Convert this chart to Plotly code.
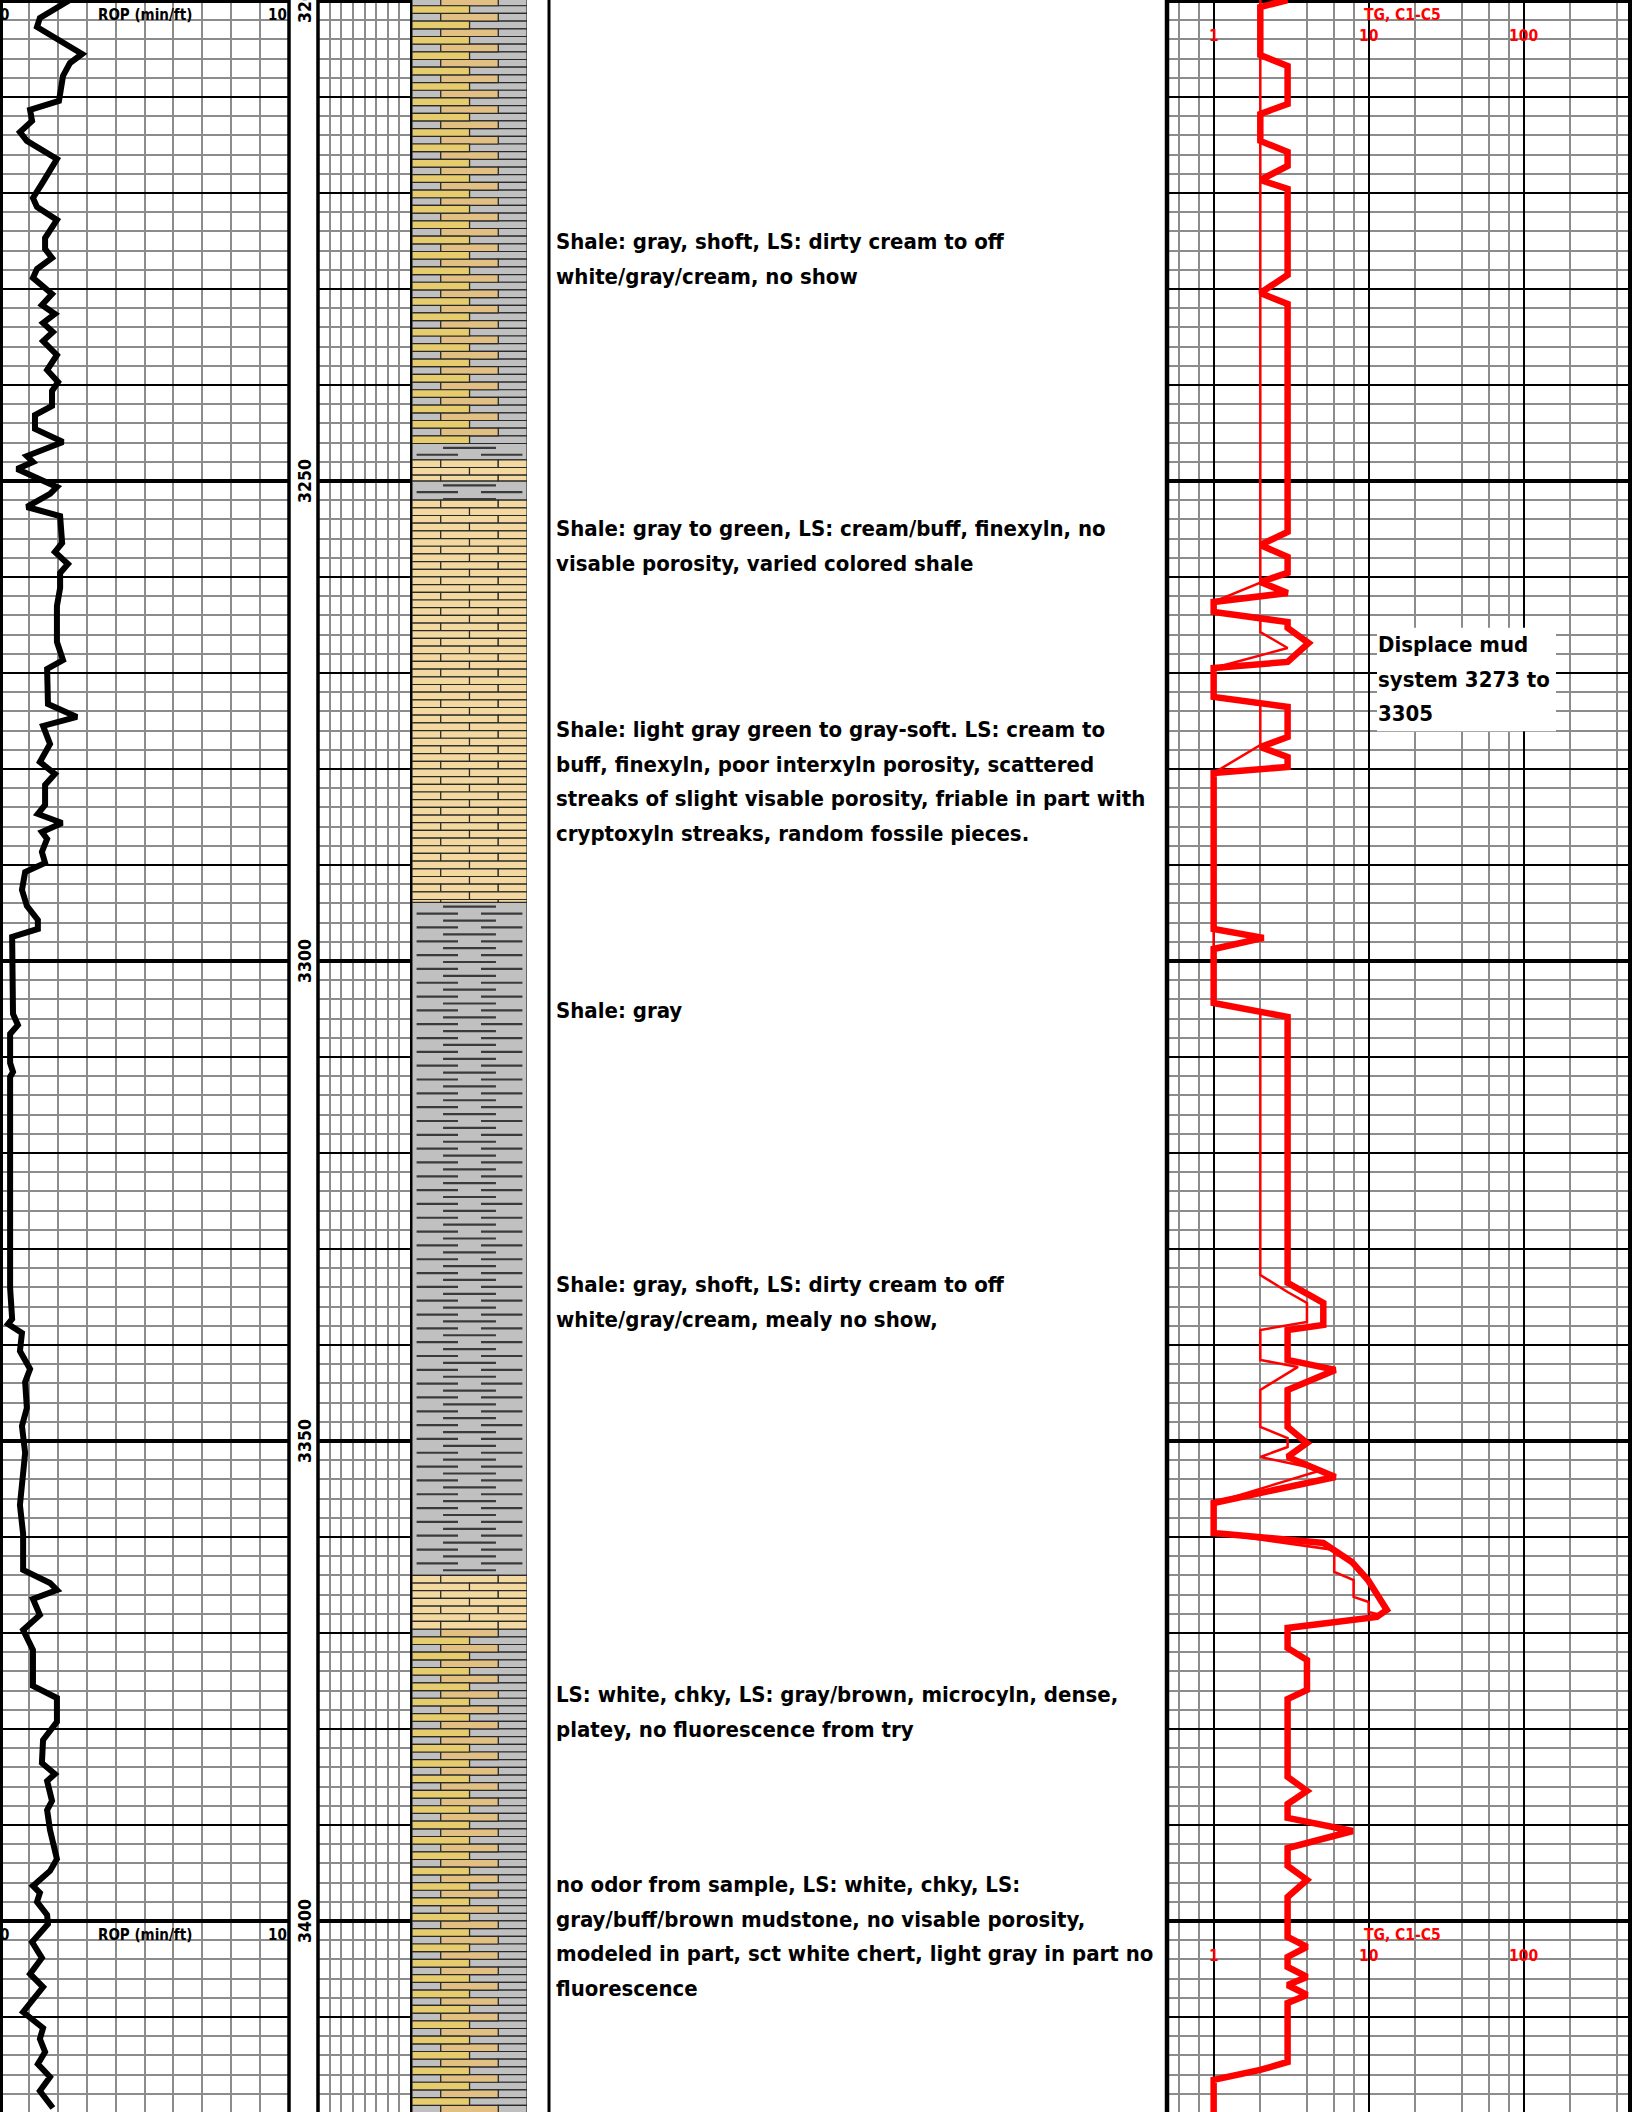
import math
import plotly.graph_objects as go

W, H = 1632, 2112
DEPTH_TOP, DEPTH_BOT = 3199.9, 3419.9

# ---------------- data ----------------
rop_depth = [3199.9, 3201.77, 3202.71, 3205.52, 3206.46, 3207.81, 3210.42, 3211.35, 3212.5, 3213.65,
             3214.58, 3216.46, 3218.85, 3220.52, 3221.46, 3222.81, 3224.69, 3225.83, 3226.77, 3227.92,
             3228.85, 3229.79, 3230.52, 3231.67, 3232.6, 3233.54, 3234.48, 3235.42, 3236.88, 3238.44,
             3239.69, 3240.63, 3242.19, 3243.13, 3244.58, 3245.94, 3247.4, 3248.02, 3248.75, 3250.63,
             3251.35, 3252.71, 3253.65, 3256.46, 3257.4, 3258.65, 3259.58, 3261.15, 3263.02, 3266.77,
             3268.65, 3269.58, 3273.23, 3274.58, 3275.52, 3277.4, 3279.27, 3280.52, 3281.67, 3283.75,
             3284.69, 3285.63, 3286.56, 3287.29, 3288.65, 3289.79, 3290.73, 3292.6, 3294.27, 3295.73,
             3296.67, 3297.5, 3301.25, 3305.52, 3306.67, 3307.6, 3310.63, 3311.56, 3312.08, 3334.06,
             3337.29, 3337.81, 3338.75, 3340.63, 3342.5, 3343.85, 3346.56, 3348.44, 3351.25, 3356.67,
             3359.69, 3363.44, 3364.79, 3365.52, 3366.46, 3368.13, 3369.69, 3371.77, 3375.52, 3376.77,
             3379.27, 3381.15, 3383.54, 3384.69, 3385.42, 3387.5, 3388.44, 3390.52, 3393.54, 3394.79,
             3396.35, 3397.08, 3398.02, 3399.38, 3400.31, 3402.19, 3403.85, 3405.52, 3406.88, 3409.48,
             3411.15, 3412.29, 3413.65, 3414.9, 3416.25, 3417.71, 3419.48]
rop_val = [2.42, 1.38, 1.28, 2.84, 2.42, 2.18, 2.04, 1.04, 1.11, 0.69,
           0.93, 1.97, 1.49, 1.14, 1.28, 1.97, 1.56, 1.56, 1.80, 1.28,
           1.14, 1.49, 1.80, 1.45, 1.90, 1.49, 1.83, 1.49, 1.97, 1.63,
           2.01, 1.80, 1.80, 1.21, 1.21, 2.18, 0.93, 1.14, 0.59, 1.97,
           1.73, 0.93, 2.08, 2.15, 1.90, 2.35, 2.08, 2.08, 1.97, 1.97,
           2.18, 1.63, 1.66, 2.66, 1.49, 1.73, 1.38, 1.90, 1.56, 1.56,
           1.31, 2.15, 1.45, 1.63, 1.45, 1.56, 0.87, 0.76, 0.93, 1.31,
           1.31, 0.42, 0.42, 0.45, 0.62, 0.35, 0.35, 0.45, 0.35, 0.35,
           0.42, 0.28, 0.76, 0.69, 1.04, 0.87, 0.93, 0.76, 0.87, 0.69,
           0.80, 0.80, 1.73, 1.97, 1.14, 1.38, 0.80, 1.14, 1.14, 1.97,
           1.97, 1.49, 1.45, 1.90, 1.63, 1.80, 1.63, 1.73, 1.97, 1.73,
           1.14, 1.38, 1.28, 1.63, 1.66, 1.11, 1.45, 1.04, 1.49, 0.80,
           1.49, 1.38, 1.56, 1.31, 1.73, 1.38, 1.83]

tg_depth = [3199.9, 3200.63, 3205.63, 3206.77, 3210.73, 3211.77, 3214.58, 3215.73, 3217.19, 3218.65,
            3219.58, 3228.54, 3230.42, 3231.56, 3255.31, 3256.67, 3257.92, 3259.58, 3260.52, 3261.67,
            3262.6, 3263.65, 3264.69, 3265.31, 3266.88, 3268.85, 3269.48, 3272.5, 3273.54, 3276.67,
            3277.71, 3278.75, 3279.79, 3280.42, 3296.67, 3297.6, 3298.75, 3304.38, 3305.83, 3333.54,
            3335.63, 3337.92, 3338.44, 3341.56, 3342.6, 3344.69, 3348.54, 3350.21, 3351.67, 3353.75,
            3356.46, 3359.58, 3360.63, 3362.6, 3364.48, 3367.6, 3368.33, 3369.48, 3371.56, 3372.81,
            3375.94, 3376.88, 3385.0, 3386.46, 3387.81, 3389.27, 3390.63, 3392.4, 3394.27, 3395.73,
            3397.5, 3401.67, 3402.71, 3403.75, 3404.79, 3405.83, 3406.67, 3407.71, 3408.54, 3414.69,
            3415.52, 3416.56, 3419.9]
tg_val = [3, 2, 2, 3, 3, 2, 2, 3, 3, 2,
          3, 3, 2, 3, 3, 2, 3, 3, 2, 3,
          1, 1, 3, 3, 4.1, 3, 1, 1, 3, 3,
          2, 3, 3, 1, 1, 2.1, 1, 1, 3, 3,
          5.1, 5.1, 3, 3, 6.1, 3, 3, 4, 3, 6.1,
          1, 1, 5.1, 7.8, 9.9, 13.1, 11.3, 3, 3, 4,
          4, 3, 3, 4, 3, 3, 7.9, 3, 3, 4,
          3, 3, 4, 3, 3, 4, 3, 4, 3, 3,
          2, 1, 1]

c1_depth = [3199.9, 3260.6, 3262.6, 3263.65, 3264.48, 3265.73, 3267.4, 3269.48, 3272.5, 3273.33,
            3277.5, 3280.42, 3304.38, 3305.31, 3332.71, 3334.48, 3335.63, 3337.6, 3338.44, 3341.56,
            3342.29, 3344.69, 3348.54, 3349.69, 3350.63, 3351.67, 3353.02, 3356.46, 3359.58, 3361.35,
            3363.65, 3364.48, 3366.25, 3366.77, 3367.81, 3368.13, 3369.48]
c1_val = [2, 2, 1, 1, 2, 2, 3, 1, 1, 2,
          2, 1, 1, 2, 2, 3, 4, 4, 2, 2,
          3.5, 2, 2, 3, 3, 2, 5, 1, 1, 6,
          6, 8, 8, 10, 10, 12, 3]

lith_top = [3199.7, 3246.1, 3247.8, 3250.0, 3252.0, 3293.9, 3364.0, 3369.6]
lith_bot = [3246.1, 3247.8, 3250.0, 3252.0, 3293.9, 3364.0, 3369.6, 3420.0]
lith_kind = ["mixed", "shale", "limestone", "shale", "limestone", "shale", "limestone", "mixed"]

depth_labels = [3200, 3250, 3300, 3350, 3400]
header_depths = [3201.45, 3401.45]
gas_scale_depths = [3203.65, 3403.65]
gas_scale_vals = [1, 10, 100]

desc_first_depth = [3225.1, 3255.0, 3275.94, 3305.21, 3333.75, 3376.46, 3396.25]
desc_text = [
    "Shale: gray, shoft, LS: dirty cream to off<br>white/gray/cream, no show",
    "Shale: gray to green, LS: cream/buff, finexyln, no<br>visable porosity, varied colored shale",
    "Shale: light gray green to gray-soft. LS: cream to<br>buff, finexyln, poor interxyln porosity, scattered<br>"
    "streaks of slight visable porosity, friable in part with<br>cryptoxyln streaks, random fossile pieces.",
    "Shale: gray",
    "Shale: gray, shoft, LS: dirty cream to off<br>white/gray/cream, mealy no show,",
    "LS: white, chky, LS: gray/brown, microcyln, dense,<br>platey, no fluorescence from try",
    "no odor from sample, LS: white, chky, LS:<br>gray/buff/brown mudstone, no visable porosity,<br>"
    "modeled in part, sct white chert, light gray in part no<br>fluorescence",
]
note_first_depth = 3267.08
note_text = "Displace mud<br>system 3273 to<br>3305"
LINE_STEP = 3.594  # ft between text lines

# ---------------- styling ----------------
FONT = "DejaVu Sans Condensed, DejaVu Sans, sans-serif"
GRID_GRAY = "#8c8c8c"
RED = "#ff0000"
C_YEL = "#e6cc6c"
C_TAN = "#e2c083"
C_GRAY = "#c0c0c0"
C_CREAM = "#f3d9a0"


def px(v):
    return v / W


fig = go.Figure()

# heavy 50-ft grid lines (drawn first, beneath curves)
for xa, ya, xr in (("x", "y", [0, 10]), ("x3", "y3", [0, 8]), ("x6", "y6", [0.5, 500])):
    gx, gy = [], []
    for d in depth_labels:
        gx += [xr[0], xr[1], None]
        gy += [d, d, None]
    fig.add_trace(go.Scatter(x=gx, y=gy, mode="lines", xaxis=xa, yaxis=ya,
                             line=dict(color="black", width=4), showlegend=False, hoverinfo="skip"))

# ROP curve
fig.add_trace(go.Scatter(x=rop_val, y=rop_depth, mode="lines", xaxis="x", yaxis="y",
                         line=dict(color="black", width=6), showlegend=False, hoverinfo="skip"))

# Lithology: brick rows
ROW = 0.8
segs = {}


def add_seg(color, y0, y1, a, b):
    s = segs.setdefault(color, ([], [], [], []))
    s[0].append((y0 + y1) / 2)
    s[1].append(y1 - y0)
    s[2].append(a)
    s[3].append(b - a)


dash_x, dash_y = [], []
for top, bot, kind in zip(lith_top, lith_bot, lith_kind):
    if kind == "shale":
        add_seg(C_GRAY, top, bot, 0, 1)
        d = top + 0.45
        k = 0
        while d < bot - 0.1:
            if k % 2 == 0:
                dash_x += [0.27, 0.73, None]
                dash_y += [d, d, None]
            else:
                dash_x += [0.04, 0.40, None, 0.60, 0.96, None]
                dash_y += [d, d, None, d, d, None]
            d += 0.72
            k += 1
        continue
    d = top
    k = 0
    while d < bot - 1e-6:
        y1 = min(d + ROW, bot)
        if kind == "mixed":
            if k % 2 == 1:
                add_seg(C_YEL, d, y1, 0, 0.5)
                add_seg(C_GRAY, d, y1, 0.5, 1)
            else:
                add_seg(C_GRAY, d, y1, 0, 0.25)
                add_seg(C_TAN, d, y1, 0.25, 0.75)
                add_seg(C_GRAY, d, y1, 0.75, 1)
        else:
            if k % 2 == 0:
                add_seg(C_CREAM, d, y1, 0, 0.25)
                add_seg(C_CREAM, d, y1, 0.25, 0.75)
                add_seg(C_CREAM, d, y1, 0.75, 1)
            else:
                add_seg(C_CREAM, d, y1, 0, 0.5)
                add_seg(C_CREAM, d, y1, 0.5, 1)
        d += ROW
        k += 1

for color, (yy, ww, bb, ll) in segs.items():
    fig.add_trace(go.Bar(orientation="h", y=yy, x=ll, base=bb, width=ww, xaxis="x4", yaxis="y4",
                         marker=dict(color=color, line=dict(color="#2a2a2a", width=1.2)),
                         showlegend=False, hoverinfo="skip"))
fig.add_trace(go.Scatter(x=dash_x, y=dash_y, mode="lines", xaxis="x4", yaxis="y4",
                         line=dict(color="#3a3a3a", width=2.2), showlegend=False, hoverinfo="skip"))

# Gas curves
fig.add_trace(go.Scatter(x=c1_val, y=c1_depth, mode="lines", xaxis="x6", yaxis="y6",
                         line=dict(color=RED, width=2.5), showlegend=False, hoverinfo="skip"))
fig.add_trace(go.Scatter(x=tg_val, y=tg_depth, mode="lines", xaxis="x6", yaxis="y6",
                         line=dict(color=RED, width=6.5), showlegend=False, hoverinfo="skip"))

# ---------------- axes ----------------
hidden_x = dict(showticklabels=False, ticks="", zeroline=False, showline=False)
yrange = [DEPTH_BOT, DEPTH_TOP]


def ygrid(anchor, grid=True):
    d = dict(domain=[0, 1], range=yrange, anchor=anchor, showticklabels=False, ticks="",
             zeroline=False, showline=False)
    if grid:
        d.update(showgrid=True, dtick=10, tick0=3200, tickmode="linear", gridcolor="black", gridwidth=2,
                 minor=dict(dtick=2, tick0=3200, tickmode="linear", showgrid=True,
                            gridcolor=GRID_GRAY, gridwidth=2))
    else:
        d.update(showgrid=False)
    return d


layout = dict(
    width=W, height=H, margin=dict(l=0, r=0, t=0, b=0, pad=0),
    paper_bgcolor="white", plot_bgcolor="white", barmode="overlay", showlegend=False,
    xaxis=dict(domain=[0, px(289)], range=[0, 10], anchor="y", showgrid=True, dtick=1, tick0=0,
               gridcolor=GRID_GRAY, gridwidth=2, **hidden_x),
    yaxis=ygrid("x"),
    xaxis2=dict(domain=[px(289), px(318)], range=[0, 1], anchor="y2", showgrid=False, **hidden_x),
    yaxis2=ygrid("x2", grid=False),
    xaxis3=dict(domain=[px(318), px(411)], range=[0, 8], anchor="y3", showgrid=True, dtick=1, tick0=0,
                gridcolor=GRID_GRAY, gridwidth=2, **hidden_x),
    yaxis3=ygrid("x3"),
    xaxis4=dict(domain=[px(412), px(527)], range=[0, 1], anchor="y4", showgrid=False, **hidden_x),
    yaxis4=ygrid("x4", grid=False),
    xaxis5=dict(domain=[px(549), px(1167)], range=[0, 1], anchor="y5", showgrid=False, **hidden_x),
    yaxis5=ygrid("x5", grid=False),
    xaxis6=dict(domain=[px(1167), px(1629)], type="log", range=[math.log10(0.5), 2.68], anchor="y6",
                showgrid=True, tickmode="array", tickvals=[1, 10, 100], gridcolor="black", gridwidth=2,
                minor=dict(tickmode="array", tickvals=[0.6, 0.8, 2, 4, 6, 8, 20, 40, 60, 80, 200, 400],
                           showgrid=True, gridcolor=GRID_GRAY, gridwidth=2),
                **hidden_x),
    yaxis6=ygrid("x6"),
)
fig.update_layout(**layout)

# ---------------- shapes (track borders, note box) ----------------
shapes = []
for xp, lw in ((1.5, 3), (289, 3.5), (318, 3.5), (411, 2), (549, 3), (1167, 4.5), (1630, 4)):
    shapes.append(dict(type="line", xref="paper", yref="paper", x0=px(xp), x1=px(xp), y0=0, y1=1,
                       line=dict(color="black", width=lw), layer="above"))
shapes.append(dict(type="rect", xref="paper", yref="y6", x0=px(1377), x1=px(1556),
                   y0=note_first_depth - 1.8, y1=note_first_depth + 2 * LINE_STEP + 1.8,
                   fillcolor="white", line=dict(width=0), layer="above"))
fig.update_layout(shapes=shapes)

# ---------------- annotations ----------------
ann = []
for d in depth_labels:
    ann.append(dict(xref="x2", yref="y2", x=0.55, y=d, text=str(d), showarrow=False, textangle=-90,
                    font=dict(family=FONT, size=17.5, color="black", weight="bold")))
hfont = dict(family=FONT, size=15, color="black", weight="bold")
rfont = dict(family=FONT, size=15.5, color=RED, weight="bold")
for hd, sd in zip(header_depths, gas_scale_depths):
    ann.append(dict(xref="x", yref="y", x=0, y=hd, text="0", showarrow=False, xanchor="left", xshift=-2,
                    font=hfont))
    ann.append(dict(xref="x", yref="y", x=5, y=hd, text="ROP (min/ft)", showarrow=False, font=hfont))
    ann.append(dict(xref="x", yref="y", x=10, y=hd, text="10", showarrow=False, xanchor="right",
                    font=hfont))
    ann.append(dict(xref="x6", yref="y6", x=math.log10(9.1), y=hd, text="TG, C1-C5", showarrow=False,
                    xanchor="left", font=rfont))
    for v in gas_scale_vals:
        ann.append(dict(xref="x6", yref="y6", x=math.log10(v), y=sd, text=str(v), showarrow=False,
                        font=rfont))
dfont = dict(family=FONT, size=22, color="black", weight="bold")
for d0, t in zip(desc_first_depth, desc_text):
    for i, line in enumerate(t.split("<br>")):
        ann.append(dict(xref="paper", yref="y5", x=px(554), y=d0 + i * LINE_STEP, text=line,
                        showarrow=False, xanchor="left", yanchor="middle", align="left", font=dfont))
for i, line in enumerate(note_text.split("<br>")):
    ann.append(dict(xref="paper", yref="y6", x=px(1376), y=note_first_depth + i * LINE_STEP, text=line,
                    showarrow=False, xanchor="left", yanchor="middle", align="left", font=dfont))
fig.update_layout(annotations=ann)

fig.write_html("out.html", config={"displayModeBar": False},
               post_script="document.body.style.margin='0';document.body.style.overflow='hidden';")
